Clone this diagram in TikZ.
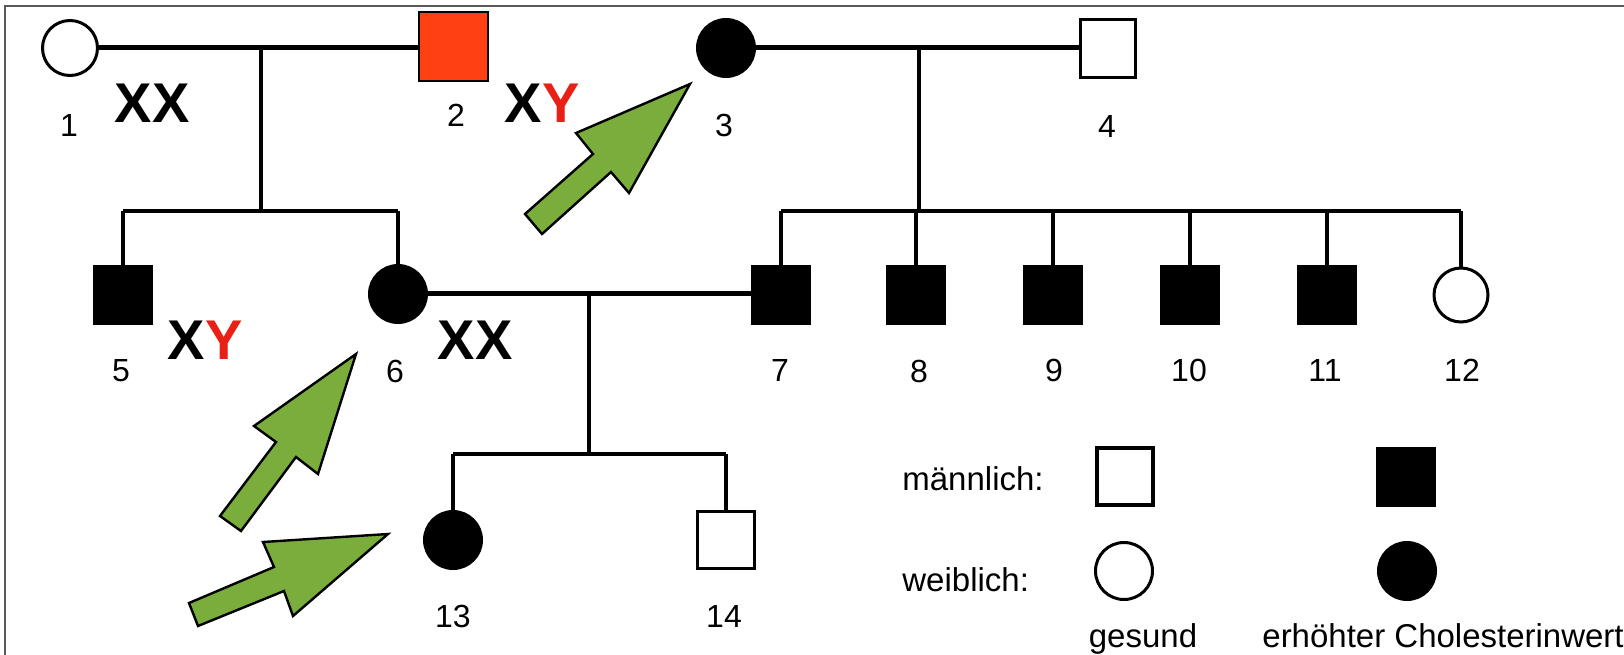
\documentclass[tikz,border=0pt]{standalone}
\usepackage{fontspec}
\setmainfont{Liberation Sans}
\definecolor{arrowgreen}{RGB}{122,173,60}
\definecolor{sqred}{RGB}{255,64,19}
\definecolor{yred}{RGB}{232,32,22}
\definecolor{framegray}{RGB}{90,90,90}
\begin{document}
\begin{tikzpicture}[x=0.5pt,y=-0.5pt,
  male/.style={rectangle, draw, line width=1.5pt, minimum width=28.5pt, minimum height=28.5pt, inner sep=0pt, fill=white},
  female/.style={circle, draw, line width=1.5pt, minimum size=28.5pt, inner sep=0pt, fill=white},
  aff/.style={fill=black},
  num/.style={font=\fontsize{16}{16}\selectfont, inner sep=0pt},
  legtext/.style={font=\fontsize{16.5}{16.5}\selectfont, inner sep=0pt},
  geno/.style={font=\fontsize{28}{28}\selectfont\bfseries, inner sep=0pt},
  marriage/.style={line width=2.5pt},
  descent/.style={line width=1.8pt},
  bigarrow/.style={fill=arrowgreen, draw=black, line width=1.2pt, line join=miter}]
\useasboundingbox (0,0) rectangle (1624,654);
\clip (0,0) rectangle (1624,654);
\fill[white] (0,0) rectangle (1624,654);
\draw[framegray, line width=1pt] (5,6) rectangle (1700,720);

% generation I
\node[female, minimum size=27.5pt] (p1) at (70,48) {};
\node[male, fill=sqred, line width=1pt, minimum width=34.5pt, minimum height=34.5pt] (p2) at (453,46) {};
\node[female, aff] (p3) at (726,48) {};
\node[male, minimum width=27.5pt, minimum height=29pt] (p4) at (1108,48) {};

% generation II
\node[male, aff] (p5) at (123,295) {};
\node[female, aff] (p6) at (398,294) {};
\node[male, aff] (p7) at (781,295) {};
\node[male, aff] (p8) at (916,295) {};
\node[male, aff] (p9) at (1053,295) {};
\node[male, aff] (p10) at (1190,295) {};
\node[male, aff] (p11) at (1327,295) {};
\node[female, minimum size=27pt] (p12) at (1461,295) {};

% generation III
\node[female, aff] (p13) at (453,540) {};
\node[male] (p14) at (726,540) {};

% connectors
\coordinate (m12) at (261,47);
\coordinate (s12) at (261,211);
\coordinate (m34) at (919,47);
\coordinate (s34) at (919,211);
\coordinate (m67) at (589,293);
\coordinate (s67) at (589,454);

\draw[marriage] (p1.east |- m12) -- (p2.west |- m12);
\draw[descent] (m12) -- (s12);
\draw[descent] (p5.north |- s12) -- (p6.north |- s12);
\draw[descent] (p5.north |- s12) -- (p5.north);
\draw[descent] (p6.north |- s12) -- (p6.north);

\draw[marriage] (p3.east |- m34) -- (p4.west |- m34);
\draw[descent] (m34) -- (s34);
\draw[descent] (p7.north |- s34) -- (p12.north |- s34);
\foreach \c in {p7,p8,p9,p10,p11,p12} \draw[descent] (\c.north |- s34) -- (\c.north);

\draw[marriage] (p6.east |- m67) -- (p7.west |- m67);
\draw[descent] (m67) -- (s67);
\draw[descent] (p13.north |- s67) -- (p14.north |- s67);
\draw[descent] (p13.north |- s67) -- (p13.north);
\draw[descent] (p14.north |- s67) -- (p14.north);

% number labels
\node[num] (l1) at (69,125) {1};
\node[num] (l2) at (456,115) {2};
\node[num] (l3) at (724,125) {3};
\node[num] (l4) at (1107,126) {4};
\node[num] (l5) at (121,371) {5};
\node[num] (l6) at (395,371) {6};
\node[num] (l7) at (780,370) {7};
\node[num] (l8) at (919,371) {8};
\node[num] (l9) at (1054,370) {9};
\node[num] (l10) at (1189,370) {10};
\node[num] (l11) at (1325,370) {11};
\node[num] (l12) at (1462,370) {12};
\node[num] (l13) at (453,616) {13};
\node[num] (l14) at (724,616) {14};

% genotypes
\node[geno] (g1) at (152,103) {XX};
\node[geno] (g2) at (542,103) {X\textcolor{yred}{Y}};
\node[geno] (g5) at (205,340) {X\textcolor{yred}{Y}};
\node[geno] (g6) at (475,340) {XX};

% green arrows
\draw[bigarrow] (690,84) -- (576,133) -- (593,154) -- (525,214) -- (542,234) -- (611,172) -- (629,193) -- cycle;
\draw[bigarrow] (356,354) -- (254,426) -- (276,442) -- (220,516) -- (241,531) -- (296,457) -- (318,474) -- cycle;
\draw[bigarrow] (388,534) -- (263,542) -- (274,567) -- (189,603) -- (198,626) -- (284,591) -- (293,616) -- cycle;

% legend
\node[legtext, anchor=west] (lm) at (902,479) {männlich:};
\node[legtext, anchor=west] (lw) at (902,580) {weiblich:};
\node[male, line width=2pt, minimum width=28pt, minimum height=28.5pt] (lms) at (1125,476) {};
\node[male, aff] (lma) at (1406,477) {};
\node[female] (lwh) at (1124,571) {};
\node[female, aff] (lwa) at (1407,571) {};
\node[legtext, anchor=base] (lg) at (1143,647) {gesund};
\node[legtext, anchor=base west] (le) at (1262,647) {erhöhter Cholesterinwert};
\end{tikzpicture}
\end{document}
